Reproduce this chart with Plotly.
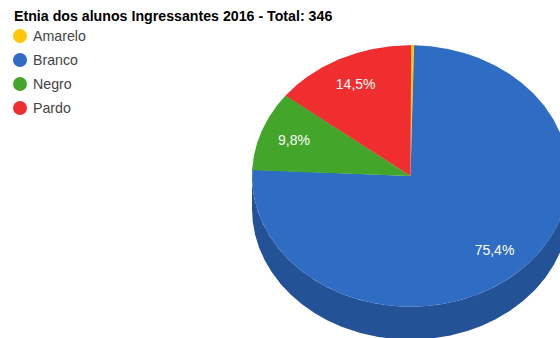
import numpy as np
import plotly.graph_objects as go

TITLE = "Etnia dos alunos Ingressantes 2016 - Total: 346"
categories = ["Amarelo", "Branco", "Negro", "Pardo"]
students = [1, 261, 34, 50]
percent_labels = ["", "75,4%", "9,8%", "14,5%"]
colors = ["#FFC60A", "#2F6CC4", "#43A52A", "#F02D2F"]
side_color = "#245296"

WIDTH, HEIGHT = 560, 338
CX, CY = 410.5, 176.0     # centre of the pie's top face
RX, RY = 158.5, 130.7     # radii of the tilted face
DEPTH = 33.0              # height of the pie's wall
LABEL_RADIUS = 0.78
LABEL_DX, LABEL_DY = -0.6, 1.0
LEGEND_X, LEGEND_Y0, LEGEND_STEP = 20, 36, 24


def rim(start_deg, end_deg, drop=0.0):
    """Points along the ellipse, clockwise from twelve o'clock."""
    theta = np.radians(np.arange(start_deg, end_deg + 0.25, 0.25))
    return CX + RX * np.sin(theta), CY + drop - RY * np.cos(theta)


fig = go.Figure()

total = sum(students)
edges = np.concatenate([[0], np.cumsum(students)]) / total * 360

# Wall of the pie: only the front half of the rim shows, all of it the blue slice
top_x, top_y = rim(90, 270)
low_x, low_y = rim(90, 270, DEPTH)
fig.add_trace(go.Scatter(
    x=np.concatenate([top_x, low_x[::-1]]),
    y=np.concatenate([top_y, low_y[::-1]]),
    mode="lines", fill="toself", fillcolor=side_color,
    line=dict(width=0), hoverinfo="skip", showlegend=False,
))

# Top face, one wedge per category
for name, color, a, b in zip(categories, colors, edges[:-1], edges[1:]):
    x, y = rim(a, b)
    fig.add_trace(go.Scatter(
        x=np.concatenate([[CX], x, [CX]]),
        y=np.concatenate([[CY], y, [CY]]),
        mode="lines", fill="toself", fillcolor=color,
        line=dict(width=0), name=name, showlegend=False,
    ))

# Percentage labels sit on each wedge's mid-angle
for label, a, b in zip(percent_labels, edges[:-1], edges[1:]):
    if not label:
        continue
    mid = np.radians((a + b) / 2)
    fig.add_trace(go.Scatter(
        x=[CX + LABEL_DX + LABEL_RADIUS * RX * np.sin(mid)],
        y=[CY + LABEL_DY - LABEL_RADIUS * RY * np.cos(mid)],
        mode="text", text=[label], textposition="middle center",
        textfont=dict(family="Liberation Sans", size=14, color="#FFFFFF"),
        hoverinfo="skip", showlegend=False,
    ))

# Legend column
legend_y = [LEGEND_Y0 + i * LEGEND_STEP for i in range(len(categories))]
fig.add_trace(go.Scatter(
    x=[LEGEND_X] * len(categories), y=legend_y,
    mode="markers", marker=dict(size=14, color=colors, line=dict(width=0)),
    hoverinfo="skip", showlegend=False,
))
for name, y in zip(categories, legend_y):
    fig.add_annotation(
        x=LEGEND_X + 13, y=y, text=name, showarrow=False,
        xanchor="left", yanchor="middle",
        font=dict(family="Liberation Sans", size=14.2, color="#444444"),
        borderpad=0, borderwidth=0,
    )

fig.add_annotation(
    x=13, y=15.5, text=f"<b>{TITLE}</b>", showarrow=False,
    xanchor="left", yanchor="middle",
    font=dict(family="Liberation Sans", size=14.2, color="#000000"),
    borderpad=0,
)

fig.update_layout(
    width=WIDTH, height=HEIGHT,
    margin=dict(l=0, r=0, t=0, b=0),
    paper_bgcolor="#FFFFFF", plot_bgcolor="#FFFFFF",
    showlegend=False,
    xaxis=dict(range=[0, WIDTH], visible=False, fixedrange=True),
    yaxis=dict(range=[HEIGHT, 0], visible=False, fixedrange=True),
)

fig.write_html("out.html", config=dict(displayModeBar=False))
